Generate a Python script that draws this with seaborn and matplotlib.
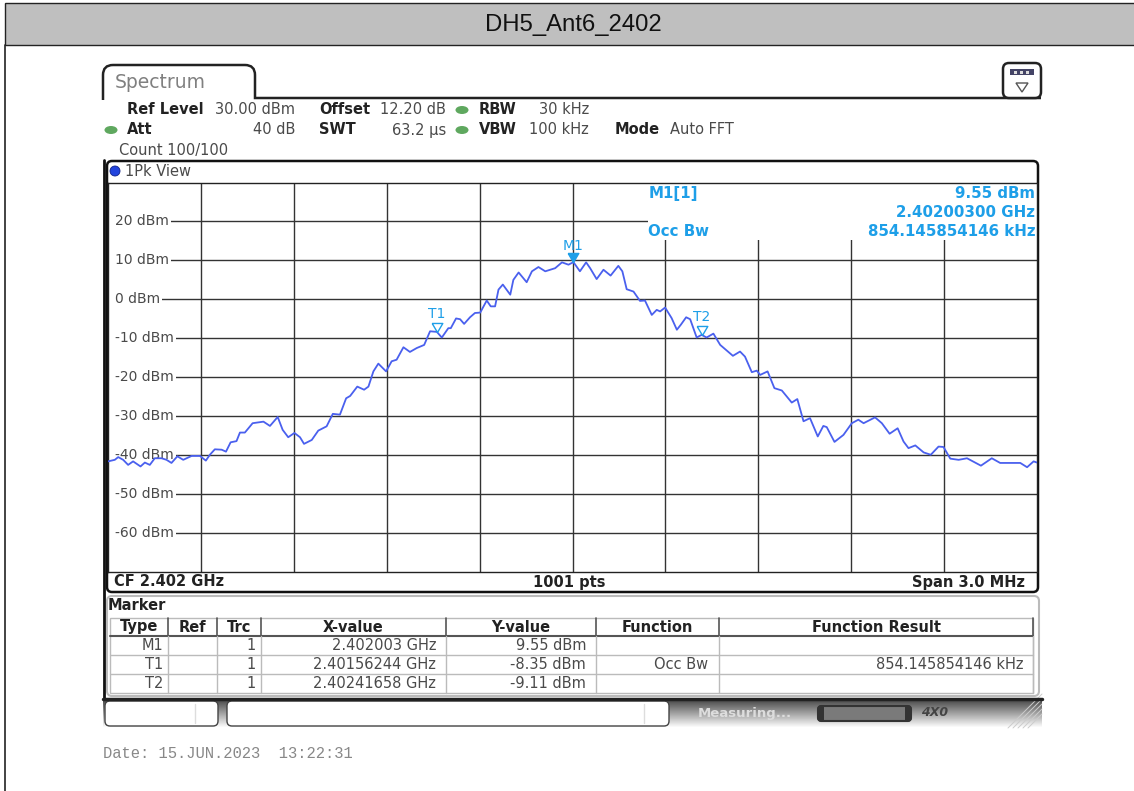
import numpy as np
import pandas as pd
import matplotlib
matplotlib.use('Agg')
import matplotlib.pyplot as plt
from matplotlib.patches import FancyBboxPatch, Rectangle, Ellipse, Polygon, PathPatch
from matplotlib.path import Path
import seaborn as sns

offset_khz = [-1500, -1478, -1467, -1451, -1435, -1419, -1395, -1381, -1365, -1349, -1327, -1311, -1295, -1276,
              -1257, -1230, -1203, -1184, -1171, -1155, -1133, -1119, -1104, -1085, -1074, -1058, -1033, -998,
              -977, -952, -936, -918, -898, -880, -867, -842, -821, -794, -774, -751, -731, -718, -695, -673,
              -659, -643, -627, -602, -584, -568, -546, -525, -503, -479, -460, -438, -422, -401, -393, -376,
              -363, -350, -331, -315, -298, -277, -264, -250, -239, -225, -201, -191, -174, -148, -131, -110,
              -88, -72, -56, -34, -13, 3, 24, 44, 57, 78, 100, 123, 148, 161, 175, 197, 218, 234, 256, 272,
              283, 299, 320, 337, 350, 367, 380, 401, 417, 433, 455, 477, 518, 541, 557, 579, 595, 606, 630,
              652, 676, 708, 726, 746, 767, 792, 810, 821, 846, 875, 902, 923, 940, 977, 999, 1024, 1050,
              1069, 1085, 1107, 1134, 1157, 1182, 1198, 1220, 1247, 1274, 1319, 1354, 1381, 1424, 1446,
              1468, 1489, 1500]
level_dbm = [-41.6, -41.2, -40.5, -41.2, -42.5, -41.6, -42.9, -41.9, -42.5, -40.8, -40.8, -41.2, -42.0, -40.3,
             -41.2, -40.2, -40.2, -41.4, -39.9, -38.5, -38.6, -39.1, -36.7, -36.4, -34.2, -34.2, -31.8, -31.4,
             -32.5, -30.2, -33.5, -35.4, -34.3, -35.4, -37.1, -36.1, -33.7, -32.6, -29.4, -29.6, -25.4, -24.8,
             -22.4, -23.2, -22.4, -18.5, -16.5, -18.5, -15.9, -15.5, -12.3, -13.5, -12.5, -11.7, -8.2, -8.35,
             -9.8, -7.4, -7.4, -4.9, -5.1, -6.3, -4.6, -3.5, -3.4, -0.3, -1.8, -1.8, 2.5, 3.8, 1.2, 5.0, 6.9,
             4.4, 7.2, 8.3, 7.2, 7.6, 8.0, 9.5, 8.9, 9.55, 7.2, 9.5, 8.0, 5.2, 7.6, 6.1, 8.6, 7.2, 2.6, 2.0,
             -0.4, -0.3, -4.0, -2.7, -3.1, -2.1, -4.8, -7.8, -6.5, -4.6, -5.1, -9.8, -9.11, -9.8, -8.8, -11.7,
             -14.5, -13.4, -14.7, -18.7, -18.3, -19.4, -18.5, -22.8, -23.4, -26.5, -25.6, -31.3, -30.5, -35.2,
             -32.5, -32.8, -36.6, -34.8, -31.8, -30.9, -31.8, -30.3, -31.8, -34.5, -33.1, -36.5, -38.2, -37.5,
             -39.3, -39.9, -37.8, -37.9, -40.9, -41.2, -40.8, -42.7, -40.8, -42.0, -42.0, -42.0, -43.1, -41.6,
             -41.9]

grid_levels = [20, 10, 0, -10, -20, -30, -40, -50, -60]
grid_offsets = [-1200, -900, -600, -300, 0, 300, 600, 900, 1200]

marker_names = ['M1', 'T1', 'T2']
marker_offsets = [3, -437.56, 416.58]
marker_levels = [9.55, -8.35, -9.11]

table_header = ['Type', 'Ref', 'Trc', 'X-value', 'Y-value', 'Function', 'Function Result']
table_x = ['2.402003 GHz', '2.40156244 GHz', '2.40241658 GHz']
table_y = ['9.55 dBm', '-8.35 dBm', '-9.11 dBm']
table_trc = ['1', '1', '1']
table_func = ['', 'Occ Bw', '']
table_result = ['', '854.145854146 kHz', '']

W, H = 1134, 791
BLUE = '#1e9fe8'
TXT = '#4a4a4a'

sns.set_theme(style='white')
plt.rcParams['font.family'] = ['DejaVu Sans']

fig = plt.figure(figsize=(W / 100, H / 100), dpi=100, facecolor='white')

# Overlay in pixel coordinates for the instrument chrome
bg = fig.add_axes([0, 0, 1, 1])
bg.axis('off')


def label(x, y, s, ha='left', weight='normal', color=TXT, size=10.5, **kw):
    bg.text(x, y, s, ha=ha, va='center', fontweight=weight, color=color, fontsize=size, **kw)


# Title bar
bg.add_patch(Rectangle((5, 3), W, 42, fc='#bfbfbf', ec='#222222', lw=1))
bg.plot([5, 5], [45, H], color='#222222', lw=1.2)
bg.text(573.5, 25, 'DH5_Ant6_2402', ha='center', va='center', fontsize=17.2, color='#111111', family='Liberation Sans')

# Bottom status bar gradient
grad = np.linspace(0.25, 1, 30).reshape(-1, 1)
bg.imshow(grad, extent=(103, 1042, 728, 698), cmap='gray', vmin=0, vmax=1, aspect='auto', zorder=0.5)
bg.add_patch(FancyBboxPatch((105, 701), 113, 25, boxstyle='round,pad=0,rounding_size=5', fc='white', ec='#444444', lw=1))
bg.add_patch(FancyBboxPatch((227, 701), 442, 25, boxstyle='round,pad=0,rounding_size=5', fc='white', ec='#444444', lw=1))
bg.plot([195, 195], [704, 723], color='#dddddd', lw=1)
bg.plot([644, 644], [704, 723], color='#dddddd', lw=1)
label(698, 713, 'Measuring...', color='#dddddd', weight='bold', size=9.5)
bg.add_patch(FancyBboxPatch((818, 706), 93, 15, boxstyle='round,pad=0,rounding_size=3', fc='#7a7a7a', ec='#333333', lw=1.5))
bg.add_patch(Rectangle((818, 706), 6, 15, fc='#333333', ec='none'))
bg.add_patch(Rectangle((905, 706), 6, 15, fc='#333333', ec='none'))
label(921, 713, '4X0', weight='bold', color='#444444', size=9, style='italic')
for i in range(5):
    bg.plot([1042 - 5 * i - 14, 1042], [728, 728 - 5 * i - 14], color='#cccccc', lw=0.7)

# Tab and outer frame
tab = Path([(103, 100), (103, 75), (103, 65), (113, 65), (245, 65), (255, 65), (255, 75), (255, 98), (1041, 98)],
           [Path.MOVETO, Path.LINETO, Path.CURVE3, Path.CURVE3, Path.LINETO, Path.CURVE3, Path.CURVE3, Path.LINETO,
            Path.LINETO])
bg.add_patch(PathPatch(tab, fc='none', ec='#222222', lw=1.8))
bg.plot([104, 104], [160, 698], color='#111111', lw=2)
bg.plot([103, 1042], [698.5, 698.5], color='#222222', lw=2.5)
bg.add_patch(FancyBboxPatch((107, 161), 931, 431, boxstyle='round,pad=0,rounding_size=5', fc='white', ec='#111111', lw=1.8))
bg.add_patch(FancyBboxPatch((107, 596), 932, 100, boxstyle='round,pad=0,rounding_size=5', fc='white', ec='#bbbbbb', lw=1.5))

# Menu icon
bg.add_patch(FancyBboxPatch((1003, 63), 38, 35, boxstyle='round,pad=0,rounding_size=6', fc='white', ec='#222222', lw=1.8))
bg.add_patch(Rectangle((1010, 69), 24, 6, fc='#444466', ec='none'))
for x in (1014, 1020, 1026):
    bg.add_patch(Rectangle((x, 70.5), 3, 3, fc='#dddddd', ec='none'))
bg.add_patch(Polygon([(1016, 83), (1028, 83), (1022, 92)], fc='white', ec='#555555', lw=1))

# Settings header
label(115, 82, 'Spectrum', color='#808080', size=13.5)
for x, y, s in [(127, 109, 'Ref Level'), (319, 109, 'Offset'), (479, 109, 'RBW'),
                (127, 130, 'Att'), (319, 130, 'SWT'), (479, 130, 'VBW'), (615, 130, 'Mode')]:
    label(x, y, s, weight='bold', color='#222222')
for x, y, s in [(295, 109, '30.00 dBm'), (446, 109, '12.20 dB'), (589, 109, '30 kHz'),
                (295, 130, '40 dB'), (446, 130, '63.2 µs'), (589, 130, '100 kHz')]:
    label(x, y, s, ha='right')
label(670, 130, 'Auto FFT')
label(119, 150, 'Count 100/100')
label(125, 171, '1Pk View')
for x, y in [(111, 130), (462, 110), (462, 130)]:
    bg.add_patch(Ellipse((x, y), 13, 8, fc='#5fa85f', ec='none'))
bg.add_patch(Ellipse((115, 171), 10, 10, fc='#2244dd', ec='#112288', lw=0.6))

# Footer of the trace window
label(114, 582, 'CF 2.402 GHz', weight='bold', color='#222222')
label(569, 582, '1001 pts', ha='center', weight='bold', color='#222222')
label(1025, 582, 'Span 3.0 MHz', ha='right', weight='bold', color='#222222')

# Marker table
label(108, 605, 'Marker', weight='bold', color='#222222')
col_edges = [110, 168, 217, 261, 446, 596, 719, 1033]
row_edges = [636, 655, 674, 692.5]
bg.add_patch(Rectangle((110, 618), 923, 74.5, fc='white', ec='#bbbbbb', lw=1))
for y in row_edges[1:3]:
    bg.plot([110, 1033], [y, y], color='#bbbbbb', lw=1)
bg.plot([110, 1033], [636, 636], color='#555555', lw=1.5)
for x in col_edges[1:]:
    bg.plot([x, x], [618, 636], color='#555555', lw=1.2)
    bg.plot([x, x], [636, 692.5], color='#bbbbbb', lw=1)
for i, s in enumerate(table_header):
    label((col_edges[i] + col_edges[i + 1]) / 2, 627, s, ha='center', weight='bold', color='#222222')
for i in range(3):
    y = (row_edges[i] + row_edges[i + 1]) / 2
    label(163, y, marker_names[i], ha='right')
    label(256, y, table_trc[i], ha='right')
    label(436, y, table_x[i], ha='right')
    label(586, y, table_y[i], ha='right')
    label(708, y, table_func[i], ha='right')
    label(1023, y, table_result[i], ha='right')

bg.text(103, 753, 'Date: 15.JUN.2023  13:22:31', ha='left', va='center', fontsize=11.2, color='#888888',
        family='Liberation Mono')

bg.set_xlim(0, W)
bg.set_ylim(H, 0)

# Trace window
ax = fig.add_axes([108 / W, 1 - 572 / H, (1037 - 108) / W, (572 - 182.5) / H])
ax.set_facecolor('white')
df = pd.DataFrame({'offset': offset_khz, 'level': level_dbm})
sns.lineplot(data=df, x='offset', y='level', color='#4a60ee', lw=1.3, zorder=4, ax=ax, errorbar=None, estimator=None,
             solid_joinstyle='round')
ax.set_xlim(-1500, 1500)
ax.set_ylim(-70, 30)
ax.set_xticks(grid_offsets)
ax.set_yticks(grid_levels)
ax.tick_params(left=False, bottom=False, labelleft=False, labelbottom=False)
ax.set_xlabel('')
ax.set_ylabel('')
ax.grid(True, color='#333333', lw=1)
ax.set_axisbelow(True)
for s in ax.spines.values():
    s.set_color('#222222')
    s.set_linewidth(1)

# The grid only starts to the right of each level label
for v in grid_levels:
    ax.add_patch(Rectangle((-1497, v - 1), 25, 2, fc='white', ec='none', zorder=2.5))
    ax.text(-1478, v, f'{v} dBm', ha='left', va='center', fontsize=10, color=TXT, zorder=3,
            bbox=dict(fc='white', ec='none', pad=1.5))

# Readout block hides the grid behind it
ax.add_patch(Rectangle((245, 15.3), 1254, 14.6, fc='white', ec='none', zorder=2.5))
for x, y, s, ha in [(245, 27.3, 'M1[1]', 'left'), (1495, 27.3, '9.55 dBm', 'right'),
                    (1495, 22.4, '2.40200300 GHz', 'right'), (245, 17.3, 'Occ Bw', 'left'),
                    (1495, 17.3, '854.145854146 kHz', 'right')]:
    ax.text(x, y, s, ha=ha, va='center', fontsize=10.8, fontweight='bold', color=BLUE, zorder=5)

# Markers, tip of each triangle sits on the trace value
tip = [(-1, 1.7), (1, 1.7), (0, 0), (-1, 1.7)]
for name, x, y in zip(marker_names, marker_offsets, marker_levels):
    filled = name == 'M1'
    ax.plot([x], [y], marker=tip, ms=13, mfc=BLUE if filled else 'none', mec=BLUE, mew=1, ls='none', zorder=5)
    ax.annotate(name, (x, y), xytext=(0, 11.5 if filled else 13), textcoords='offset points', ha='center',
                va='center', fontsize=10, color=BLUE, zorder=5)

fig.savefig('out.png', dpi=100)
